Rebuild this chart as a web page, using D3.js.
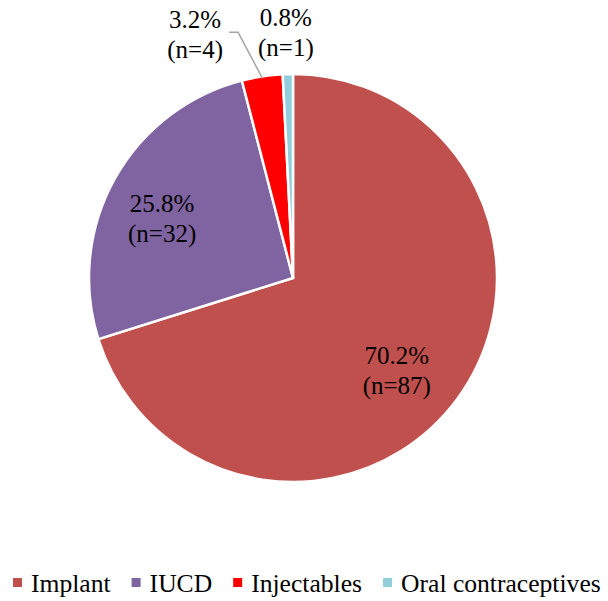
<!DOCTYPE html>
<html>
<head>
<meta charset="utf-8">
<script src="https://cdn.jsdelivr.net/npm/d3@7"></script>
</head>
<body style="margin:0">
<div id="chart"></div>
<script>
// data
var categories = ["Implant", "IUCD", "Injectables", "Oral contraceptives"];
var counts = [87, 32, 4, 1];
var percents = ["70.2%", "25.8%", "3.2%", "0.8%"];
var colors = ["#C0504D", "#8064A2", "#FF0000", "#92CDDC"];

var width = 608, height = 601;
var cx = 293, cy = 278, radius = 204;
var fontFamily = "Liberation Serif";

var svg = d3.select("#chart").append("svg")
    .attr("width", width)
    .attr("height", height);

var g = svg.append("g")
    .attr("transform", "translate(" + cx + "," + cy + ")");

var pie = d3.pie().sort(null).value(function(d) { return d; });
var arcs = pie(counts);

var arc = d3.arc().innerRadius(0).outerRadius(radius);

g.selectAll("path.slice")
    .data(arcs)
  .enter().append("path")
    .attr("class", "slice")
    .attr("d", arc)
    .style("fill", function(d, i) { return colors[i]; })
    .style("stroke", "#fff")
    .style("stroke-width", 2.5)
    .style("stroke-linejoin", "miter");

// label placement: radius along the slice mid-angle plus a nudge
var labelLayout = [
  {r: 0.68, dx: -8, dy: 10},
  {r: 0.70, dx: -6, dy: 9},
  {r: 1.0, dx: -67, dy: -42},
  {r: 1.0, dx: -2, dy: -42}
];

function midPoint(d, r) {
  var a = (d.startAngle + d.endAngle) / 2;
  return [Math.sin(a) * r, -Math.cos(a) * r];
}

// labels positioned from the slice geometry
arcs.forEach(function(d, i) {
  var p = midPoint(d, radius * labelLayout[i].r);
  var tx = cx + p[0] + labelLayout[i].dx, ty = cy + p[1] + labelLayout[i].dy;
  svg.append("text")
      .attr("x", tx).attr("y", ty - 6)
      .attr("text-anchor", "middle")
      .style("font-family", fontFamily)
      .style("font-size", "25px")
      .style("fill", "#000")
      .text(percents[i]);
  svg.append("text")
      .attr("x", tx).attr("y", ty + 24)
      .attr("text-anchor", "middle")
      .style("font-family", fontFamily)
      .style("font-size", "25px")
      .style("fill", "#000")
      .text("(n=" + counts[i] + ")");
});

// leader line for the injectables label
var inj = arcs[2];
var edge = midPoint(inj, radius - 2);
var lab = midPoint(inj, radius);
var lx = lab[0] + labelLayout[2].dx, ly = lab[1] + labelLayout[2].dy;
g.append("polyline")
    .attr("points", [
      [edge[0], edge[1]],
      [lx + 43, ly - 2],
      [lx + 34, ly - 2]
    ].map(function(p) { return p.join(","); }).join(" "))
    .style("fill", "none")
    .style("stroke", "#A6A6A6")
    .style("stroke-width", 1.5);

// legend
var x = 13, baseline = 592;
categories.forEach(function(c, i) {
  svg.append("rect")
      .attr("x", x)
      .attr("y", baseline - 14)
      .attr("width", 9)
      .attr("height", 9)
      .style("fill", colors[i]);
  var t = svg.append("text")
      .attr("x", x + 18)
      .attr("y", baseline)
      .style("font-family", fontFamily)
      .style("font-size", "25.6px")
      .style("fill", "#000")
      .text(c);
  x += 18 + t.node().getComputedTextLength() + 21;
});
</script>
</body>
</html>
